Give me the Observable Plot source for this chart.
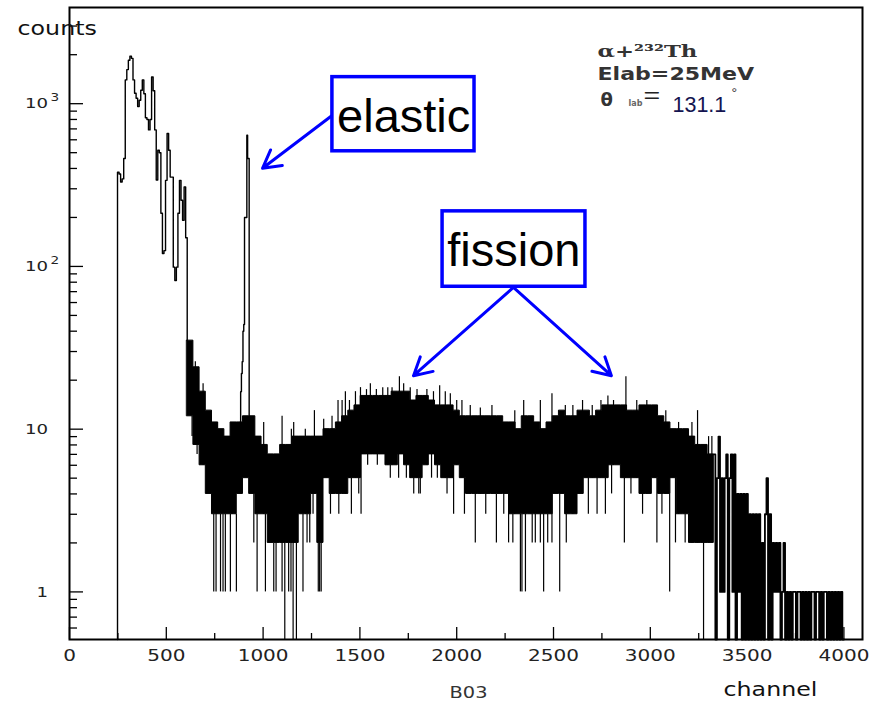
<!DOCTYPE html>
<html><head><meta charset="utf-8">
<script src="https://cdn.jsdelivr.net/npm/d3@7"></script>
<script src="https://cdn.jsdelivr.net/npm/@observablehq/plot@0.6"></script>
<style>body{margin:0;background:#fff}</style>
</head><body><div id="chart"></div>
<script>
// ---- data ----
const peakStart = 248, peakWidth = 8;          // channels
const peakCounts = [380,370,330,345,460,1400,1620,1850,1960,1900,1400,1160,1080,960,1050,1210,1400,1150,820,800,690,800,1460,1200,690,340,517,500,212,120,125,338,656,517,354,354,99,82,99,212,338,255,192,308,150];

const elasticStart = 880, elasticWidth = 4;
const elasticCounts = [10,17,22,26,40,44,200,200,200,640,460,460];

const bandStart = 608, bandWidth = 32;        // dense noisy region: envelope per 32 channels
const bandHi = [35,24,17,13,11,10,9,11,11,12,12,9,8,7,7,8,8,9,9,9,9,9,10,10,11,12,13,14,16,16,16,16,16,17,17,17,15,16,16,15,14,14,14,13,12,12,12,12,12,12,12,11,11,10,12,12,11,10,11,12,13,12,12,13,13,12,13,14,14,14,14,13,13,14,14,14,12,11,10,10,10,9,8,8,7];
const bandLo = [12,8,6,4,3,3,3,3,4,5,4,3,3,2,2,2,2,2,3,3,4,2,5,4,4,4,5,5,7,7,7,7,6,6,7,6,5,5,6,7,6,5,5,6,5,4,4,4,4,4,4,4,3,3,3,3,3,3,3,4,4,3,3,4,5,5,5,5,6,6,5,5,5,4,4,5,4,4,5,3,3,2,2,2,2];

const spikeChannel = [650,690,733,762,840,1003,1098,1146,1158,1218,1265,1313,1356,1387,1408,1425,1446,1477,1503,1534,1554,1585,1618,1644,1666,1704,1726,1760,1795,1846,1880,1912,1941,1967,2000,2027,2070,2122,2182,2300,2346,2432,2492,2561,2600,2650,2700,2745,2781,2810,2874,2930,2982,3025,3080,3146,3215,3244,3301,3318];
const spikeCount   = [26,19,12,11,11,11,12,10,11,10,13,11.5,12,15,15,17,15,17,18,17.5,19,17.5,18,18,18,21,19,18,17.5,17.5,17,18.5,17,16.5,15,15,14,13.5,14,13,15,15,16.5,14,14,15,14,15,16,15,21,15,15,14,13,11,11,13,9,9];

const dipChannel = [633,659,714,745,757,780,793,805,831,862,952,969,1012,1055,1067,1098,1112,1132,1144,1155,1172,1206,1227,1241,1258,1285,1292,1300,1348,1391,1416,1456,1494,1506,1540,1590,1657,1700,1740,1778,1804,1812,1870,1900,1950,1984,2040,2096,2150,2186,2205,2243,2268,2290,2329,2337,2355,2390,2406,2432,2449,2470,2492,2532,2566,2620,2680,2725,2768,2800,2866,2900,2960,3034,3060,3100,3130,3180,3215,3275];
const dipCount   = [9,7,4,1,1,1,1,1,1,1,2,1,1,1,1,1,0,1,1,0,0,1,2,2,3,1,1,1,3,3,4,3,4,3,6,6,5,5,5,4,4,4,5,5,4,3,3,2,3,4,2,3,2,2,1,1,1,2,2,2,1,2,2,1,2,3,3,3,3,4,2,4,3,2,3,1,2,2,2,0];

const tailStart = 3328, tailWidth = 8;
const tailCounts = [7,0,5,9,1,5,1,5,7,0, 5,7,1,7,0,4,1,4,0,4, 0,4,0,3,0,3,0,3,0,3, 0,2,0,3,5,0,3,0,2,1, 2,1,2,0,1,2,
  0,1,0,1,0,1,1,0,1,1, 0,1,0,1,0,1,0,1,1,0, 1,1,0,1,0,1,1,0,1,0, 1,0,1,0,1,0,1,0];

const xMajor = [0,500,1000,1500,2000,2500,3000,3500,4000];
const xMinor = [250,750,1250,1750,2250,2750,3250,3750];
const yMajor = [1,10,100,1000];
const yMinor = [0.6,0.7,0.8,0.9,2,3,4,5,6,7,8,9,20,30,40,50,60,70,80,90,200,300,400,500,600,700,800,900,2000,3000];

const annotBoxes = [
  {label: "elastic", x1: 1358, x2: 2092, y1: 510, y2: 1456, lx: 1726, ly: 671},
  {label: "fission", x1: 1927, x2: 2665, y1: 75, y2: 218, lx: 2295, ly: 101}
];
const annotArrows = [
  {x1: 1358, y1: 849, x2: 997, y2: 401},
  {x1: 2293, y1: 74.3, x2: 1777, y2: 21.3},
  {x1: 2293, y1: 74.3, x2: 2799, y2: 21.3}
];

// ---- build ----
const yDomain = [0.51, 3900];
const f = v => v > 0 ? v : yDomain[0];   // empty bins drawn down to the axis
function steps(start, width, counts, before, after) {
  const pts = [{x: start, y: f(before)}];
  counts.forEach((c, i) => pts.push({x: start + i * width, y: f(c)}));
  const end = start + counts.length * width;
  pts.push({x: end, y: f(counts[counts.length - 1])});
  if (after !== undefined) pts.push({x: end, y: f(after)});
  return pts;
}
const bandIndex = ch => Math.max(0, Math.min(bandHi.length - 1, Math.floor((ch - bandStart) / bandWidth)));
const band = bandHi.map((h, i) => ({x: bandStart + i * bandWidth, hi: h, lo: bandLo[i]}));
band.push({x: bandStart + bandHi.length * bandWidth, hi: bandHi[bandHi.length - 1], lo: bandLo[bandLo.length - 1]});

const peakPts = steps(peakStart, peakWidth, peakCounts, 0, bandHi[0]);
const elasticPts = steps(elasticStart, elasticWidth, elasticCounts, bandHi[bandIndex(elasticStart)], bandHi[bandIndex(elasticStart + elasticCounts.length * elasticWidth)]);
const tailPts = steps(tailStart, tailWidth, tailCounts, bandHi[bandHi.length - 1], 0);
const spikes = spikeChannel.map((c, i) => ({x: c, v: spikeCount[i], base: bandLo[bandIndex(c)]}));
const dips = dipChannel.map((c, i) => ({x: c, v: f(dipCount[i]), base: bandLo[bandIndex(c)]}));

const frameW = 877 - 69 - 15, frameH = 701 - 7 - 62;
const blue = "#0000ff";
// font-family strings carry a marker (an uninstalled fallback name) for the horizontal stretch
const sans125 = "DejaVu Sans, stretch125";
const sans130 = "DejaVu Sans, stretch130";
const serif130 = "DejaVu Serif, stretch130";
const arial130 = "Liberation Sans, stretch130";

const chart = Plot.plot({
  width: 877, height: 701,
  marginLeft: 69, marginRight: 15, marginTop: 7, marginBottom: 62,
  style: {background: "white", fontFamily: "DejaVu Sans"},
  x: {domain: [0, 4096], axis: null},
  y: {type: "log", domain: yDomain, axis: null},
  marks: [
    Plot.areaY(band, {x: "x", y1: "lo", y2: "hi", curve: "step-after", fill: "black", stroke: "black", strokeWidth: 1}),
    Plot.ruleX(spikes, {x: "x", y1: "v", y2: "base", stroke: "black", strokeWidth: 1.2}),
    Plot.ruleX(dips, {x: "x", y1: "v", y2: "base", stroke: "black", strokeWidth: 1.2}),
    Plot.line(peakPts, {x: "x", y: "y", curve: "step-after", stroke: "black", strokeWidth: 1.4}),
    Plot.line(elasticPts, {x: "x", y: "y", curve: "step-after", stroke: "black", strokeWidth: 1.4}),
    Plot.line(tailPts, {x: "x", y: "y", curve: "step-after", stroke: "black", strokeWidth: 1.8}),
    // ticks (inside the frame, ROOT style)
    Plot.tickX(xMajor, {x: d => d, insetTop: frameH - 12, strokeWidth: 1.3}),
    Plot.tickX(xMinor, {x: d => d, insetTop: frameH - 6, strokeWidth: 1.3}),
    Plot.tickY(yMajor, {y: d => d, insetRight: frameW - 14, strokeWidth: 1.3}),
    Plot.tickY(yMinor, {y: d => d, insetRight: frameW - 8, strokeWidth: 1.3}),
    Plot.frame({stroke: "black", strokeWidth: 2}),
    // tick labels
    Plot.text(xMajor, {x: d => d, text: d => String(d), frameAnchor: "bottom", dy: 21, lineAnchor: "bottom", fontSize: 16, fill: "#222", fontFamily: sans125}),
    Plot.text(yMajor, {y: d => d, text: d => d >= 10 ? "10" : "1", frameAnchor: "left", dx: -21.5, textAnchor: "end", fontSize: 14.5, fill: "#222", fontFamily: sans125}),
    Plot.text(yMajor.filter(d => d >= 100), {y: d => d, text: d => String(Math.round(Math.log10(d))), frameAnchor: "left", dx: -19, dy: -6, textAnchor: "start", fontSize: 10.5, fill: "#222", fontFamily: sans130}),
    // axis titles
    Plot.text(["counts"], {text: d => d, frameAnchor: "top-left", dx: -52, dy: 27, textAnchor: "start", lineAnchor: "bottom", fontSize: 19, fill: "#111", fontFamily: sans125}),
    Plot.text(["channel"], {text: d => d, frameAnchor: "bottom-left", dx: 654, dy: 56, textAnchor: "start", lineAnchor: "bottom", fontSize: 19, fill: "#111", fontFamily: sans125}),
    Plot.text(["B03"], {text: d => d, frameAnchor: "bottom", dx: 2.5, dy: 58, lineAnchor: "bottom", fontSize: 15.5, fill: "#333", fontFamily: sans125}),
    // reaction info
    Plot.text(["α+²³²Th"], {text: d => d, frameAnchor: "top-left", dx: 528, dy: 49, textAnchor: "start", lineAnchor: "bottom", fontSize: 17.5, fontWeight: "bold", fontFamily: serif130, fill: "#333"}),
    Plot.text(["Elab=25MeV"], {text: d => d, frameAnchor: "top-left", dx: 528, dy: 72, textAnchor: "start", lineAnchor: "bottom", fontSize: 17, fontWeight: "bold", fill: "#333", fontFamily: sans130}),
    Plot.text(["θ"], {text: d => d, frameAnchor: "top-left", dx: 531, dy: 98, textAnchor: "start", lineAnchor: "bottom", fontSize: 18, fontWeight: "bold", fill: "#333"}),
    Plot.text(["lab"], {text: d => d, frameAnchor: "top-left", dx: 559, dy: 98, textAnchor: "start", lineAnchor: "bottom", fontSize: 8, fontWeight: "bold", fill: "#666"}),
    Plot.text(["="], {text: d => d, frameAnchor: "top-left", dx: 574, dy: 95, textAnchor: "start", lineAnchor: "bottom", fontSize: 22, fontFamily: arial130, fill: "#222"}),
    Plot.text(["131.1"], {text: d => d, frameAnchor: "top-left", dx: 603, dy: 104, textAnchor: "start", lineAnchor: "bottom", fontSize: 21.5, fontFamily: "Liberation Sans", fill: "#141450"}),
    Plot.text(["°"], {text: d => d, frameAnchor: "top-left", dx: 662, dy: 90, textAnchor: "start", lineAnchor: "bottom", fontSize: 14, fontFamily: "Liberation Sans", fill: "#333"}),
    // annotations
    Plot.arrow(annotArrows, {x1: "x1", y1: "y1", x2: "x2", y2: "y2", stroke: blue, strokeWidth: 3, headLength: 10, headAngle: 58}),
    Plot.rect(annotBoxes, {x1: "x1", x2: "x2", y1: "y1", y2: "y2", fill: "white", stroke: blue, strokeWidth: 3.5}),
    Plot.text(annotBoxes, {x: "lx", y: "ly", text: "label", lineAnchor: "bottom", fontSize: 47, fontFamily: "Liberation Sans", fill: "black"})
  ]
});

// horizontally stretched ROOT-style lettering
chart.querySelectorAll('g[font-family*="stretch"]').forEach(g => {
  const k = +g.getAttribute("font-family").match(/stretch(\d+)/)[1] / 100;
  g.querySelectorAll("text").forEach(t => {
    const dx = parseFloat(t.getAttribute("dx")) || 0;
    t.removeAttribute("dx");
    const tr = t.getAttribute("transform") || "";
    t.setAttribute("transform", `${tr} translate(${dx},0) scale(${k},1)`);
  });
});

document.getElementById("chart").appendChild(chart);
</script>
</body></html>
